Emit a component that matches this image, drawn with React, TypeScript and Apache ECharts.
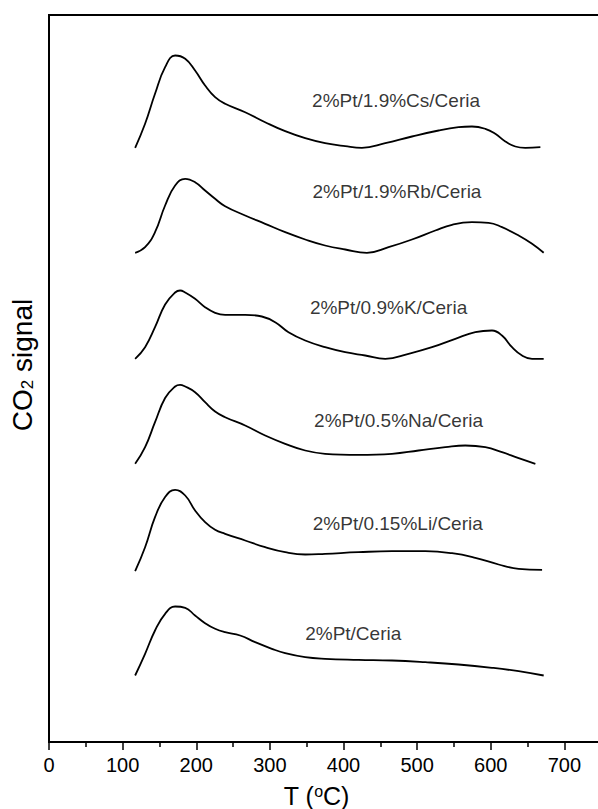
import React, { useEffect, useRef } from "react";
import * as echarts from "echarts";

// Temperature (°C) sample points and stacked CO2 signal (a.u., offset per curve)
const T_CS = [117, 130.5, 144, 157.7, 171.3, 185, 198.4, 212, 225.6, 239.2, 266.4, 293.6, 320.8, 348, 375, 402.3, 425, 456.7, 493, 529.2, 556.3, 574.5, 592.6, 606.2, 619.8, 633.4, 647, 667.4];
const CS = [594.2, 618.2, 648.2, 674.8, 686.5, 683.2, 671.5, 656.5, 644.8, 638.2, 629.8, 619.8, 610.8, 603.8, 598.8, 595.8, 594.2, 598.8, 605.5, 611.5, 614.8, 615.5, 613.2, 608.2, 600.5, 595.5, 594.2, 594.8];

const T_RB = [117, 130.5, 144, 157.7, 171.3, 185, 198.4, 212, 225.6, 239.2, 266.4, 293.6, 320.8, 348, 375, 402.3, 431.8, 461.2, 493, 524.7, 547.4, 574.5, 597.1, 615.3, 637.9, 656.1, 671.9];
const RB = [489.2, 494.8, 509.8, 536.5, 556.5, 563.2, 559.8, 551.5, 543.2, 535.8, 526.5, 518.2, 509.8, 502.5, 496.5, 492.5, 489.2, 494.8, 502.5, 511.5, 517.2, 519.8, 519.2, 514.8, 506.5, 498.2, 489.2];

const T_K = [117, 130.5, 144, 157.7, 171.3, 178, 185, 198.4, 212, 225.6, 239.2, 266.4, 289.1, 307.2, 325.3, 348, 375, 402.3, 429.5, 456.7, 488.4, 520.2, 551.9, 579, 601.7, 615.3, 628.9, 642.5, 656.1, 671.9];
const K = [383.2, 394.8, 414.8, 437.5, 449.5, 451.5, 449.5, 443.2, 434.8, 429.2, 427.2, 427.2, 425.5, 419.8, 409.8, 401.5, 394.8, 389.8, 386.5, 383.2, 388.2, 394.8, 403.2, 409.8, 411.5, 406.5, 394.8, 386.5, 383.2, 383.2];

const T_NA = [117, 130.5, 144, 157.7, 171.3, 178, 185, 198.4, 212, 225.6, 239.2, 266.4, 293.6, 320.8, 348, 375, 420.4, 465.8, 502, 538.3, 565.4, 592.6, 615.3, 637.9, 660.6];
const NA = [278.2, 294.8, 319.8, 344.0, 355.5, 357.2, 355.5, 349.8, 339.8, 330.5, 324.8, 316.5, 306.5, 298.2, 291.5, 288.2, 287.2, 288.2, 291.5, 294.8, 296.5, 294.8, 289.8, 283.8, 278.2];

const T_LI = [117, 130.5, 144, 157.7, 171.3, 185, 198.4, 212, 225.6, 239.2, 266.4, 293.6, 320.8, 348, 375, 420.4, 465.8, 511.1, 547.4, 579, 610.7, 637.9, 669.7];
const LI = [170.8, 194.8, 224.8, 245.0, 252.2, 246.5, 231.5, 219.8, 212.2, 208.2, 201.5, 194.8, 189.8, 187.5, 188.2, 189.8, 190.8, 190.8, 188.8, 184.2, 177.5, 173.2, 172.2];

const T_PT = [117, 130.5, 144, 157.7, 171.3, 185, 198.4, 212, 225.6, 239.2, 259.6, 280, 302.7, 320.8, 348, 375, 420.4, 465.8, 511.1, 556.3, 601.7, 637.9, 671.9];
const PT = [66.5, 88.2, 111.5, 128.2, 135.5, 134.2, 126.5, 118.8, 113.2, 109.8, 106.5, 99.8, 93.2, 88.8, 84.8, 83.2, 82.2, 81.5, 79.8, 77.5, 74.2, 70.8, 66.5];

const NAMES = ["2%Pt/1.9%Cs/Ceria", "2%Pt/1.9%Rb/Ceria", "2%Pt/0.9%K/Ceria", "2%Pt/0.5%Na/Ceria", "2%Pt/0.15%Li/Ceria", "2%Pt/Ceria"];

// Annotation anchors (data coordinates) for curve labels
const LABEL_T = [471.4, 472.6, 461.2, 474.8, 473.7, 413.2];
const LABEL_H = [641.5, 550.5, 434.8, 321.5, 218.8, 108.8];

const FONT = "'Liberation Sans', Arial, Helvetica, sans-serif";

export default function App() {
  const ref = useRef<HTMLDivElement>(null);
  useEffect(() => {
    if (!ref.current) return;
    const chart = echarts.init(ref.current, null, { renderer: "svg" });
    const curves: [number[], number[]][] = [
      [T_CS, CS],
      [T_RB, RB],
      [T_K, K],
      [T_NA, NA],
      [T_LI, LI],
      [T_PT, PT],
    ];
    const lineSeries = curves.map(([t, v], i) => ({
      type: "line",
      name: NAMES[i],
      data: t.map((x, j) => [x, v[j]]),
      smooth: 0.45,
      symbol: "none",
      showSymbol: false,
      lineStyle: { color: "#000", width: 1.8 },
      silent: true,
    }));
    const labelSeries = {
      type: "scatter",
      silent: true,
      symbolSize: 1,
      itemStyle: { color: "rgba(0,0,0,0)" },
      data: NAMES.map((n, i) => ({ name: n, value: [LABEL_T[i], LABEL_H[i]] })),
      label: {
        show: true,
        position: "inside",
        formatter: "{b}",
        color: "#000",
        fontSize: 19,
        fontFamily: FONT,
      },
    };
    chart.setOption({
      animation: false,
      backgroundColor: "#fff",
      grid: {
        left: 49,
        top: 15,
        width: 589,
        bottom: 67,
        show: true,
        borderColor: "#000",
        borderWidth: 2,
        containLabel: false,
        outerBoundsMode: "none",
      },
      xAxis: {
        type: "value",
        min: 0,
        max: 800,
        interval: 100,
        axisLine: { lineStyle: { color: "#000", width: 2 } },
        axisTick: { length: 8, lineStyle: { color: "#000", width: 1.5 } },
        minorTick: { show: true, splitNumber: 2, length: 5, lineStyle: { color: "#000", width: 1.5 } },
        splitLine: { show: false },
        minorSplitLine: { show: false },
        axisLabel: {
          color: "#000",
          fontSize: 20,
          margin: 13,
          fontFamily: FONT,
          formatter: (v: number) => (v <= 700 ? String(v) : ""),
        },
        name: "T ({sup|o}C)",
        nameLocation: "middle",
        nameGap: 41,
        nameTextStyle: {
          color: "#000",
          fontSize: 25,
          fontFamily: FONT,
          padding: [0, 54, 0, 0],
          rich: {
            sup: { fontSize: 16, fontFamily: FONT, color: "#000", verticalAlign: "top" },
          },
        },
      },
      yAxis: {
        type: "value",
        min: 0,
        max: 727,
        axisLine: { show: true, lineStyle: { color: "#000", width: 2 } },
        axisTick: { show: false },
        axisLabel: { show: false },
        splitLine: { show: false },
        name: "CO{sub|2} signal",
        nameLocation: "middle",
        nameRotate: 90,
        nameGap: 13,
        nameTextStyle: {
          color: "#000",
          fontSize: 28,
          fontFamily: FONT,
          padding: [0, 0, 0, 27],
          rich: {
            sub: { fontSize: 17, fontFamily: FONT, color: "#000", verticalAlign: "bottom" },
          },
        },
      },
      series: [...lineSeries, labelSeries],
    });
    return () => chart.dispose();
  }, []);
  return (
    <div
      ref={ref}
      style={{ position: "absolute", left: 0, top: 0, width: 598, height: 809, background: "#fff" }}
    />
  );
}
